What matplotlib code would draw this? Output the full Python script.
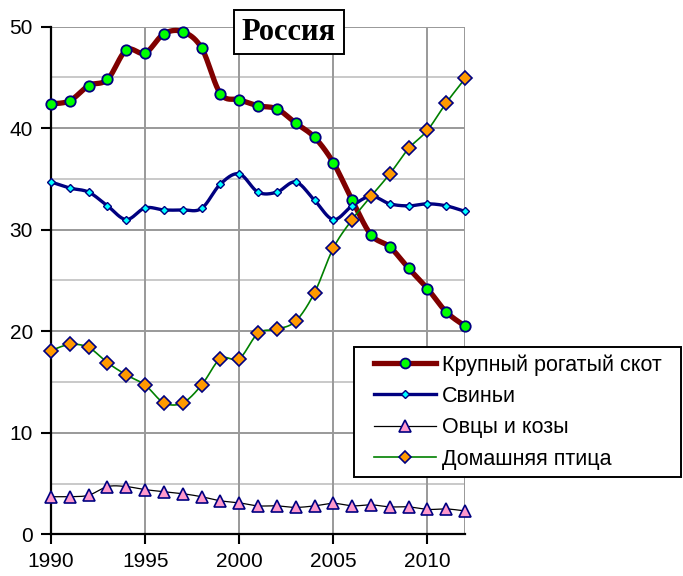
import numpy as np
import matplotlib
matplotlib.use("Agg")
import matplotlib.pyplot as plt
from matplotlib.lines import Line2D
from matplotlib.patches import Rectangle

# данные (млн голов)
years = list(range(1990, 2013))
cattle = [42.4, 42.7, 44.2, 44.8, 47.7, 47.4, 49.3, 49.5, 47.9, 43.4, 42.8, 42.2,
          41.9, 40.5, 39.1, 36.6, 32.9, 29.5, 28.3, 26.2, 24.2, 21.9, 20.5]
pigs = [34.7, 34.1, 33.7, 32.35, 31.0, 32.15, 31.95, 31.95, 32.1, 34.5, 35.5, 33.7,
        33.7, 34.7, 32.9, 31.0, 32.35, 33.3, 32.55, 32.35, 32.55, 32.35, 31.8]
sheep = [3.7, 3.7, 3.85, 4.7, 4.7, 4.4, 4.2, 4.0, 3.7, 3.3, 3.1, 2.8,
         2.8, 2.65, 2.8, 3.05, 2.8, 2.9, 2.7, 2.7, 2.45, 2.5, 2.3]
poultry = [18.1, 18.7, 18.4, 16.9, 15.7, 14.7, 12.95, 12.95, 14.7, 17.3, 17.3, 19.8,
           20.2, 21.0, 23.8, 28.2, 31.0, 33.3, 35.5, 38.0, 39.8, 42.5, 44.9]
labels = ["Крупный рогатый скот", "Свиньи", "Овцы и козы", "Домашняя птица"]


def smooth(x, y, n=20):
    # сглаживание как в Excel (Catmull-Rom через кривые Безье)
    x = np.asarray(x, float)
    y = np.asarray(y, float)
    P = np.column_stack([x, y])
    P = np.vstack([P[0], P, P[-1]])
    out = []
    t = np.linspace(0, 1, n)[:, None]
    for i in range(1, len(P) - 2):
        p0, p1 = P[i], P[i + 1]
        c1 = p0 + (P[i + 1] - P[i - 1]) / 6
        c2 = p1 - (P[i + 2] - P[i]) / 6
        seg = ((1 - t) ** 3) * p0 + 3 * ((1 - t) ** 2) * t * c1 + 3 * (1 - t) * t ** 2 * c2 + t ** 3 * p1
        out.append(seg if i == 1 else seg[1:])
    out = np.vstack(out)
    return out[:, 0], out[:, 1]


plt.rcParams['font.family'] = ['Liberation Sans', 'DejaVu Sans']

fig = plt.figure(figsize=(6.83, 5.76), dpi=100)
ax = fig.add_axes([0.0747, 0.0724, 0.6063, 0.8813])

navy = '#000080'
styles = [
    dict(data=cattle, color='#800000', lw=3.8, marker='o', ms=7.5, mfc='#00ff00', mew=1.3),
    dict(data=pigs, color=navy, lw=2.4, marker='D', ms=4.2, mfc='#00ffff', mew=1.0),
    dict(data=sheep, color='black', lw=0.9, marker='^', ms=8.5, mfc='#ff99cc', mew=1.2),
    dict(data=poultry, color='#008000', lw=1.2, marker='D', ms=6.8, mfc='#ff9900', mew=1.2),
]

handles = []
for st in styles:
    sx, sy = smooth(years, st['data'])
    ax.plot(sx, sy, color=st['color'], lw=st['lw'], zorder=3, solid_capstyle='round')
    ax.plot(years, st['data'], ls='none', marker=st['marker'], ms=st['ms'],
            mfc=st['mfc'], mec=navy, mew=st['mew'], zorder=4, clip_on=False)
    handles.append(Line2D([], [], color=st['color'], lw=st['lw'], marker=st['marker'],
                          ms=st['ms'] * 0.95, mfc=st['mfc'], mec=navy, mew=st['mew']))

ax.set_xlim(1990, 2012)
ax.set_ylim(0, 50)

# сетка
for yy in range(5, 50, 10):
    ax.axhline(yy, color='#c0c0c0', lw=1.2, zorder=1)
for yy in range(10, 51, 10):
    ax.axhline(yy, color='#999999', lw=1.4, zorder=1)
for xx in [1995, 2000, 2005, 2010, 2012]:
    ax.axvline(xx, color='#999999', lw=1.4, zorder=1)

ax.set_xticks([1990, 1995, 2000, 2005, 2010])
ax.set_yticks(range(0, 51, 10))
ax.tick_params(direction='out', length=7, width=1.5, labelsize=15, pad=6)
for s in ['top', 'right']:
    ax.spines[s].set_visible(False)
for s in ['left', 'bottom']:
    ax.spines[s].set_linewidth(1.6)

fig.text(0.423, 0.944, "Россия", family='Liberation Serif', weight='bold', fontsize=22,
         ha='center', va='center',
         bbox=dict(boxstyle='square,pad=0.25', fc='white', ec='black', lw=1.4))

# рамка легенды отдельно
W, H = 683, 576
fig.patches.append(Rectangle((354 / W, 1 - 477 / H), 327 / W, 130 / H,
                             transform=fig.transFigure, fc='white', ec='black',
                             lw=1.4, zorder=5))
leg = fig.legend(handles, labels, loc='upper left', bbox_to_anchor=(374 / W, 1 - 354 / H),
                 fontsize=15.5, frameon=False, handlelength=2.9, handletextpad=0.25,
                 borderpad=0, labelspacing=0.48, borderaxespad=0)
leg.set_zorder(6)

plt.savefig('out.png', dpi=100)
